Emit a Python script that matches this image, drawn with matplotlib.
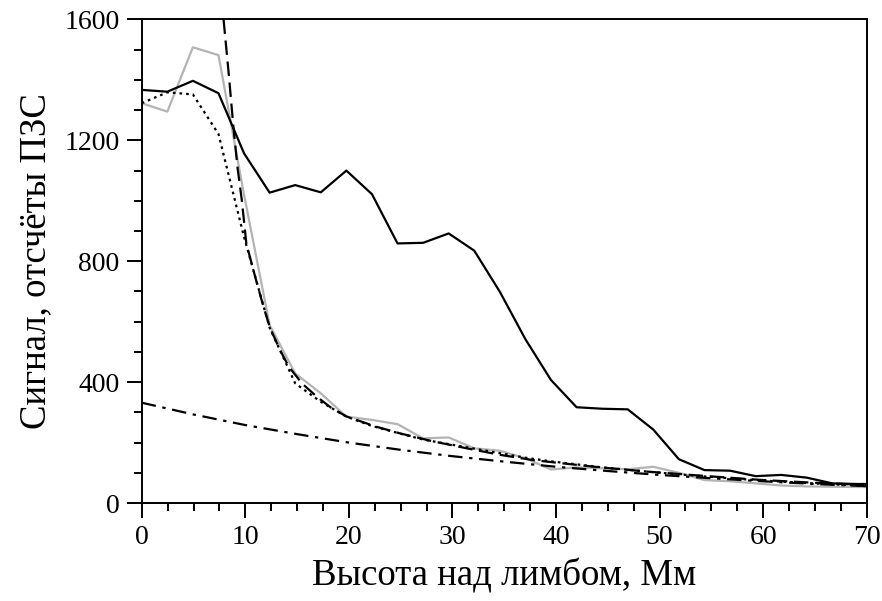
import matplotlib
matplotlib.use("Agg")
import matplotlib.pyplot as plt
from matplotlib.ticker import MultipleLocator
import numpy as np

plt.rcParams["font.family"] = ["Liberation Serif", "DejaVu Serif"]

# sampling step of the measured profiles, Mm
STEP = 2.47
x_obs = [STEP * k for k in range(29)] + [70.0]

# observed profile (solid black)
sig_obs = [1367, 1361, 1397, 1356, 1157, 1027, 1052, 1028, 1100, 1022,
           859, 861, 892, 835, 699, 542, 407, 317, 312, 310,
           243, 145, 109, 107, 89, 93, 84, 65, 63, 63]

# second profile (gray)
sig_gray = [1323, 1295, 1508, 1482, 1020, 589, 429, 363, 286, 275,
            261, 214, 217, 181, 173, 148, 111, 118, 115, 112,
            120, 100, 76, 72, 65, 58, 55, 54, 53, 53]

# model (dotted)
sig_dot = [1323, 1359, 1352, 1221, 880, 580, 396, 335, 286, 255,
           232, 210, 195, 180, 165, 150, 138, 128, 118, 110,
           102, 95, 88, 82, 76, 71, 66, 62, 58, 56]

# steep fit (dashed)
x_dash = [7.9, 8.4, 8.85, 9.25, 9.66, 10.1, 10.95, 11.75, 12.4, 13.3,
          14.2, 15.5, 16.9, 18.3, 19.8, 22.7, 25.0, 28.0, 31.4, 34.5,
          37.8, 41.0, 44.3, 48.8, 55.0, 60.0, 65.0, 70.0]
sig_dash = [1600, 1420, 1245, 1110, 1003, 859, 749, 650, 579, 510,
            451, 395, 352, 315, 286, 252, 230, 205, 181, 160,
            142, 130, 118, 104, 88, 76, 67, 60]

# background (dash-dot)
x_bg = [0, 5, 10, 15, 20, 25, 30, 35, 40, 45, 50, 55, 60, 65, 70]
sig_bg = [332, 293, 258, 228, 200, 176, 155, 137, 120, 106, 93, 82, 72, 63, 56]

fig = plt.figure(figsize=(8.82, 6.01), dpi=100)
ax = fig.add_axes([0.1607, 0.163, 0.8219, 0.8046])

lw = 1.6
ax.plot(x_obs, sig_gray, color="#b4b4b4", lw=lw)
ax.plot(x_obs, sig_dot, color="black", lw=lw, linestyle=(0, (1.2, 1.8)))
ax.plot(x_dash, sig_dash, color="black", lw=lw, linestyle=(0, (6.5, 3)))
ax.plot(x_bg, sig_bg, color="black", lw=lw, linestyle=(0, (6.5, 3, 1.5, 3)))
ax.plot(x_obs, sig_obs, color="black", lw=lw)

ax.set_xlim(0, 70)
ax.set_ylim(0, 1600)
ax.xaxis.set_major_locator(MultipleLocator(10))
ax.xaxis.set_minor_locator(MultipleLocator(2.5))
ax.yaxis.set_major_locator(MultipleLocator(400))
ax.yaxis.set_minor_locator(MultipleLocator(100))
ax.tick_params(which="both", direction="out", width=1.4, labelsize=20, pad=5)
ax.tick_params(which="major", length=11)
ax.tick_params(which="minor", length=6)
for s in ax.spines.values():
    s.set_linewidth(1.4)

ax.set_xlabel("Высота над лимбом, Мм", fontsize=26.5, labelpad=6)
ax.set_ylabel("Сигнал, отсчёты ПЗС", fontsize=26.5, labelpad=8)

fig.savefig("out.png", dpi=100)
